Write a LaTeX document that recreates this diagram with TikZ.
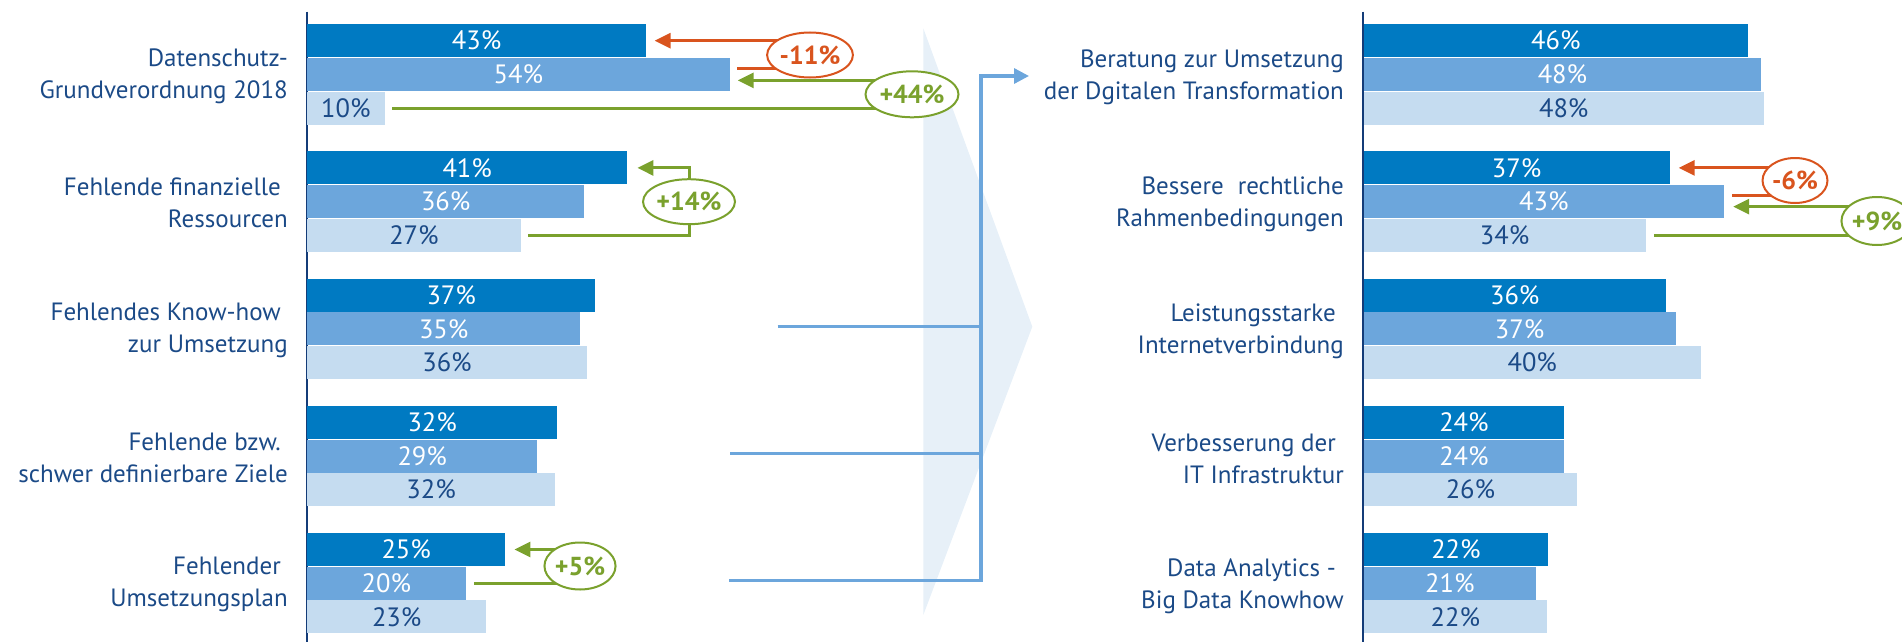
\documentclass[tikz,border=0pt]{standalone}
\usepackage{fontspec}
\setmainfont{PT Sans}
\usetikzlibrary{shapes.geometric,arrows.meta}
\definecolor{dbar}{RGB}{0,122,194}
\definecolor{mbar}{RGB}{108,166,220}
\definecolor{lbar}{RGB}{197,220,240}
\definecolor{navy}{RGB}{27,74,135}
\definecolor{redc}{RGB}{217,84,30}
\definecolor{grnc}{RGB}{122,161,45}
\definecolor{chevc}{RGB}{231,240,248}
\definecolor{axisc}{RGB}{20,60,120}
\pgfdeclarelayer{bg}
\pgfsetlayers{bg,main}
\tikzset{
  barbase/.style={anchor=north west, inner sep=0pt, minimum height=33pt, font=\fontsize{26.5}{30}\selectfont},
  barA/.style={barbase, fill=dbar, text=white},
  barB/.style={barbase, fill=mbar, text=white},
  barC/.style={barbase, fill=lbar, text=navy},
  lbl/.style={anchor=east, align=right, text=navy, inner sep=0pt, font=\fontsize{25}{32}\selectfont},
  ell/.style={ellipse, line width=2pt, fill=white, inner sep=0pt, font=\bfseries\fontsize{26}{28}\selectfont},
  rell/.style={ell, draw=redc, text=redc},
  gell/.style={ell, draw=grnc, text=grnc},
  tip/.style={-{Triangle[length=16pt,width=15pt]}},
  rline/.style={draw=redc, line width=3pt},
  gline/.style={draw=grnc, line width=3pt},
  bline/.style={draw=mbar, line width=3.3pt},
  axisline/.style={draw=axisc, line width=2pt}
}
\begin{document}
\begin{tikzpicture}[x=1pt,y=-1pt]
\useasboundingbox (0,0) rectangle (1902,642);
% background chevron
\begin{pgfonlayer}{bg}
\fill[chevc] (923.3,28.3) -- (1032.3,326.7) -- (923.3,615) -- cycle;
\end{pgfonlayer}
% axes
\draw[axisline] (306.7,11.7) -- (306.7,642);
\draw[axisline] (1362.5,11.7) -- (1362.5,642);
% left bars
\node[barA, minimum width=338.7pt] (L11) at (307,24) {43\%};
\node[barB, minimum width=422.3pt] (L12) at (307,57.7) {54\%};
\node[barC, minimum width=77.3pt] (L13) at (307,91.4) {10\%};
\node[barA, minimum width=320pt] (L21) at (307,151.2) {41\%};
\node[barB, minimum width=277pt] (L22) at (307,184.9) {36\%};
\node[barC, minimum width=213.5pt] (L23) at (307,218.6) {27\%};
\node[barA, minimum width=288pt] (L31) at (307,278.4) {37\%};
\node[barB, minimum width=273pt] (L32) at (307,312.1) {35\%};
\node[barC, minimum width=279.6pt] (L33) at (307,345.8) {36\%};
\node[barA, minimum width=250pt] (L41) at (307,405.6) {32\%};
\node[barB, minimum width=230pt] (L42) at (307,439.3) {29\%};
\node[barC, minimum width=247.8pt] (L43) at (307,473) {32\%};
\node[barA, minimum width=198pt] (L51) at (307,532.8) {25\%};
\node[barB, minimum width=158.4pt] (L52) at (307,566.5) {20\%};
\node[barC, minimum width=179pt] (L53) at (307,600.2) {23\%};
% right bars
\node[barA, minimum width=384.2pt] (R11) at (1363.5,24) {46\%};
\node[barB, minimum width=397.5pt] (R12) at (1363.5,57.7) {48\%};
\node[barC, minimum width=400.1pt] (R13) at (1363.5,91.4) {48\%};
\node[barA, minimum width=305.8pt] (R21) at (1363.5,151.2) {37\%};
\node[barB, minimum width=360.3pt] (R22) at (1363.5,184.9) {43\%};
\node[barC, minimum width=281.9pt] (R23) at (1363.5,218.6) {34\%};
\node[barA, minimum width=302.1pt] (R31) at (1363.5,278.4) {36\%};
\node[barB, minimum width=311.9pt] (R32) at (1363.5,312.1) {37\%};
\node[barC, minimum width=337.1pt] (R33) at (1363.5,345.8) {40\%};
\node[barA, minimum width=200.5pt] (R41) at (1363.5,405.6) {24\%};
\node[barB, minimum width=200.5pt] (R42) at (1363.5,439.3) {24\%};
\node[barC, minimum width=213.5pt] (R43) at (1363.5,473) {26\%};
\node[barA, minimum width=184.5pt] (R51) at (1363.5,532.8) {22\%};
\node[barB, minimum width=172.3pt] (R52) at (1363.5,566.5) {21\%};
\node[barC, minimum width=183.4pt] (R53) at (1363.5,600.2) {22\%};
% left labels
\node[lbl] (T1) at (288,76) {Datenschutz-\\Grundverordnung 2018};
\node[lbl] (T2) at (288,203.2) {Fehlende finanzielle\hspace*{7pt}\\Ressourcen};
\node[lbl] (T3) at (288,330.4) {Fehlendes Know-how\hspace*{7pt}\\zur Umsetzung};
\node[lbl] (T4) at (288,457.6) {Fehlende bzw.\hspace*{7pt}\\schwer definierbare Ziele};
\node[lbl] (T5) at (288,584.8) {Fehlender\hspace*{7pt}\\Umsetzungsplan};
% right labels
\node[lbl] (S1) at (1344,77) {Beratung zur Umsetzung\\der Dgitalen Transformation};
\node[lbl] (S2) at (1344,204.2) {Bessere\hspace{14pt}rechtliche\\Rahmenbedingungen};
\node[lbl] (S3) at (1344,331.4) {Leistungsstarke\hspace*{8pt}\\Internetverbindung};
\node[lbl] (S4) at (1344,458.6) {Verbesserung der\hspace*{8pt}\\IT Infrastruktur};
\node[lbl] (S5) at (1344,585.8) {Data Analytics -\hspace*{8pt}\\Big Data Knowhow};
% change ellipses
\node[rell, minimum width=81.5pt, minimum height=45pt] (E1) at (810,55) {-11\%};
\node[gell, minimum width=93pt, minimum height=46pt] (E2) at (912,94.3) {+44\%};
\node[gell, minimum width=91pt, minimum height=45pt] (E3) at (689,201.7) {+14\%};
\node[gell, minimum width=70pt, minimum height=47pt] (E4) at (580,566) {+5\%};
\node[rell, minimum width=61pt, minimum height=45pt] (E5) at (1795,180.5) {-6\%};
\node[gell, minimum width=70pt, minimum height=48pt] (E6) at (1877,221) {+9\%};
% connector end points
\coordinate (a1) at ([xshift=7.5pt,yshift=5.5pt]L12.east);
\coordinate (a2) at ([xshift=8.5pt]L11.east);
\coordinate (a3) at ([xshift=7.5pt]L13.east);
\coordinate (a4) at ([xshift=8pt,yshift=-6pt]L12.east);
\coordinate (a5) at ([xshift=7.5pt]L23.east);
\coordinate (a6) at ([xshift=10pt]L21.east);
\coordinate (a7) at ([xshift=8pt]L52.east);
\coordinate (a8) at ([xshift=9pt]L51.east);
\coordinate (b1) at ([xshift=8pt,yshift=6.5pt]R22.east);
\coordinate (b2) at ([xshift=9pt]R21.east);
\coordinate (b3) at ([xshift=8pt]R23.east);
\coordinate (b4) at ([xshift=9pt,yshift=-5pt]R22.east);
% change connectors
\begin{pgfonlayer}{bg}
\draw[rline] (a1) -- (E1.center |- a1);
\draw[rline,tip] (E1.center |- a2) -- (a2);
\draw[gline] (a3) -- (E2.center |- a3);
\draw[gline,tip] (E2.center |- a4) -- (a4);
\draw[gline] (a5) -| (E3.center);
\draw[gline,tip] (E3.center) |- (a6);
\draw[gline] (a7) -- (E4.center |- a7);
\draw[gline,tip] (E4.center |- a8) -- (a8);
\draw[rline] (b1) -- (E5.center |- b1);
\draw[rline,tip] (E5.center |- b2) -- (b2);
\draw[gline] (b3) -- (E6.center |- b3);
\draw[gline,tip] (E6.center |- b4) -- (b4);
% flow connector
\coordinate (k3) at (777.7,326.7);
\coordinate (k4) at (730,453.3);
\coordinate (k5) at (729,580.7);
\coordinate (kv) at (981,580.7);
\coordinate (kt) at (1029,76);
\draw[bline] (k3) -- (k3 -| kv);
\draw[bline] (k4) -- (k4 -| kv);
\draw[bline,-{Triangle[length=15pt,width=15pt]}] (k5) -- (kv) |- (kt);
\end{pgfonlayer}
\end{tikzpicture}
\end{document}
